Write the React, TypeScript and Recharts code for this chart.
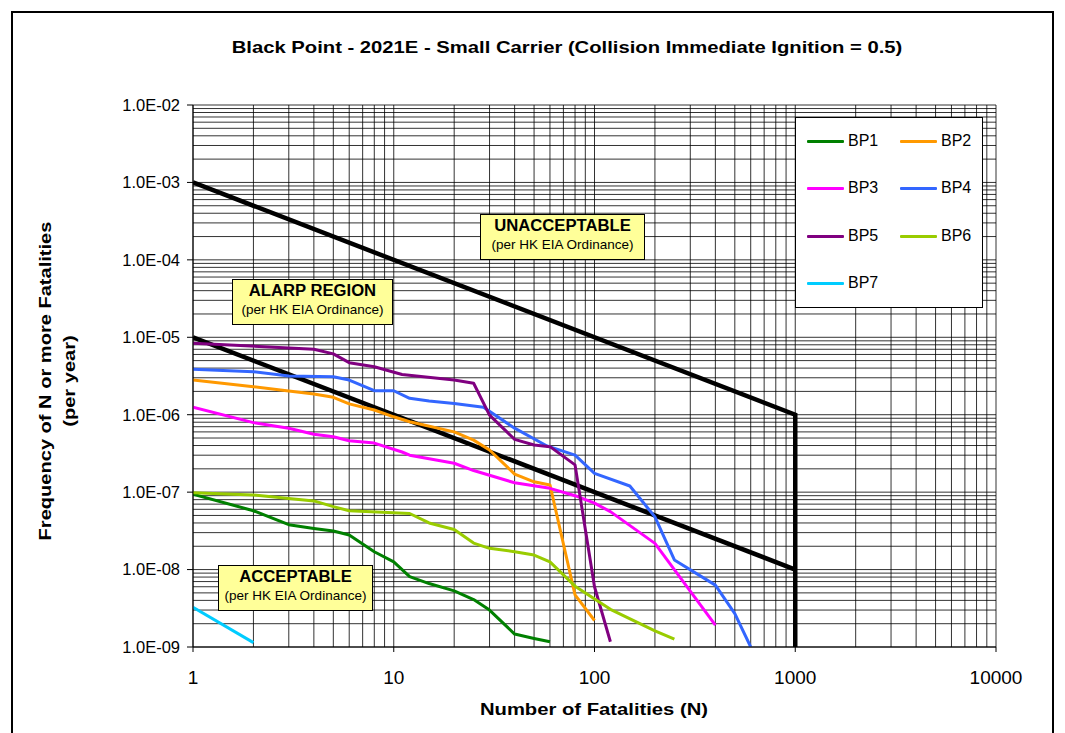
import React from 'react'
import { LineChart, Line, XAxis, YAxis, ReferenceLine } from 'recharts'

// axis ticks
const xTicks = [1, 10, 100, 1000, 10000]
const xTickLabels = ['1', '10', '100', '1000', '10000']
const yTicks = [1e-9, 1e-8, 1e-7, 1e-6, 1e-5, 1e-4, 1e-3, 1e-2]
const yTickLabels = ['1.0E-09', '1.0E-08', '1.0E-07', '1.0E-06', '1.0E-05', '1.0E-04', '1.0E-03', '1.0E-02']

// log grid: every 1..9 step inside each decade
const gridSteps = [1, 2, 3, 4, 5, 6, 7, 8, 9]
const xDecades = [1, 10, 100, 1000]
const yDecades = [1e-9, 1e-8, 1e-7, 1e-6, 1e-5, 1e-4, 1e-3]

// HK EIA risk criterion lines
const upperLimit = [
  { n: 1, f: 1e-3 },
  { n: 1000, f: 1e-6 },
  { n: 1000, f: 1e-9 },
]
const lowerLimit = [
  { n: 1, f: 1e-5 },
  { n: 1000, f: 1e-8 },
]

// F-N curves
const bp1 = [
  { n: 1, f: 9.4e-8 }, { n: 2, f: 5.75e-8 }, { n: 3, f: 3.8e-8 }, { n: 4, f: 3.4e-8 },
  { n: 5, f: 3.15e-8 }, { n: 6, f: 2.8e-8 }, { n: 8, f: 1.7e-8 }, { n: 10, f: 1.26e-8 },
  { n: 12, f: 8.1e-9 }, { n: 15, f: 6.6e-9 }, { n: 20, f: 5.3e-9 }, { n: 25, f: 4.1e-9 },
  { n: 30, f: 3.0e-9 }, { n: 40, f: 1.47e-9 }, { n: 50, f: 1.29e-9 }, { n: 60, f: 1.17e-9 },
]
const bp2 = [
  { n: 1, f: 2.8e-6 }, { n: 2, f: 2.3e-6 }, { n: 3, f: 2.02e-6 }, { n: 4, f: 1.85e-6 },
  { n: 5, f: 1.68e-6 }, { n: 6, f: 1.38e-6 }, { n: 8, f: 1.15e-6 }, { n: 10, f: 9.4e-7 },
  { n: 12, f: 8.1e-7 }, { n: 20, f: 6.0e-7 }, { n: 25, f: 4.7e-7 }, { n: 30, f: 3.5e-7 },
  { n: 40, f: 1.71e-7 }, { n: 50, f: 1.36e-7 }, { n: 60, f: 1.24e-7 }, { n: 80, f: 4.7e-9 },
  { n: 100, f: 2.2e-9 },
]
const bp3 = [
  { n: 1, f: 1.25e-6 }, { n: 2, f: 7.9e-7 }, { n: 3, f: 6.7e-7 }, { n: 4, f: 5.6e-7 },
  { n: 5, f: 5.2e-7 }, { n: 6, f: 4.6e-7 }, { n: 8, f: 4.3e-7 }, { n: 11, f: 3.3e-7 },
  { n: 12, f: 3.0e-7 }, { n: 20, f: 2.36e-7 }, { n: 25, f: 1.9e-7 }, { n: 40, f: 1.32e-7 },
  { n: 60, f: 1.12e-7 }, { n: 80, f: 9.0e-8 }, { n: 100, f: 7.2e-8 }, { n: 120, f: 5.6e-8 },
  { n: 200, f: 2.18e-8 }, { n: 400, f: 1.92e-9 },
]
const bp4 = [
  { n: 1, f: 3.86e-6 }, { n: 2, f: 3.6e-6 }, { n: 3, f: 3.16e-6 }, { n: 5, f: 3.1e-6 },
  { n: 6, f: 2.8e-6 }, { n: 8, f: 2.04e-6 }, { n: 10, f: 2.04e-6 }, { n: 12, f: 1.63e-6 },
  { n: 15, f: 1.5e-6 }, { n: 20, f: 1.4e-6 }, { n: 28, f: 1.25e-6 }, { n: 40, f: 6.7e-7 },
  { n: 58, f: 3.95e-7 }, { n: 80, f: 3.0e-7 }, { n: 100, f: 1.75e-7 }, { n: 150, f: 1.2e-7 },
  { n: 200, f: 4.8e-8 }, { n: 250, f: 1.33e-8 }, { n: 400, f: 6.3e-9 }, { n: 500, f: 2.7e-9 },
  { n: 600, f: 1.0e-9 },
]
const bp5 = [
  { n: 1, f: 8.4e-6 }, { n: 4, f: 7.0e-6 }, { n: 5, f: 6.1e-6 }, { n: 6, f: 4.7e-6 },
  { n: 8, f: 4.17e-6 }, { n: 11, f: 3.3e-6 }, { n: 20, f: 2.8e-6 }, { n: 25, f: 2.55e-6 },
  { n: 30, f: 9.9e-7 }, { n: 40, f: 4.8e-7 }, { n: 50, f: 4.07e-7 }, { n: 60, f: 3.87e-7 },
  { n: 80, f: 2.25e-7 }, { n: 100, f: 6.0e-9 }, { n: 120, f: 1.17e-9 },
]
const bp6 = [
  { n: 1, f: 9.8e-8 }, { n: 2, f: 9.2e-8 }, { n: 3, f: 8.3e-8 }, { n: 4, f: 7.7e-8 },
  { n: 5, f: 6.5e-8 }, { n: 6, f: 5.75e-8 }, { n: 12, f: 5.3e-8 }, { n: 15, f: 4.0e-8 },
  { n: 20, f: 3.3e-8 }, { n: 25, f: 2.2e-8 }, { n: 30, f: 1.88e-8 }, { n: 40, f: 1.7e-8 },
  { n: 50, f: 1.54e-8 }, { n: 60, f: 1.26e-8 }, { n: 80, f: 6.1e-9 }, { n: 120, f: 3.07e-9 },
  { n: 200, f: 1.62e-9 }, { n: 250, f: 1.26e-9 },
]
const bp7 = [
  { n: 1, f: 3.26e-9 }, { n: 2, f: 1.14e-9 },
]

const series = [
  { name: 'BP1', data: bp1, color: '#008000' },
  { name: 'BP2', data: bp2, color: '#FF9900' },
  { name: 'BP3', data: bp3, color: '#FF00FF' },
  { name: 'BP4', data: bp4, color: '#3366FF' },
  { name: 'BP5', data: bp5, color: '#800080' },
  { name: 'BP6', data: bp6, color: '#99CC00' },
  { name: 'BP7', data: bp7, color: '#00CCFF' },
]

const FONT = '"Liberation Sans", Arial, sans-serif'

const xGrid = [...xDecades.flatMap((d) => gridSteps.map((m) => m * d)), 10000]
const yGrid = [...yDecades.flatMap((d) => gridSteps.map((m) => m * d)), 1e-2]

function RegionBox({
  left, top, width, title, sub,
}: { left: number; top: number; width: number; title: string; sub: string }) {
  return (
    <div
      style={{
        position: 'absolute', left, top, width, height: 46, boxSizing: 'border-box',
        border: '1px solid #000', background: '#FFFF99', textAlign: 'center',
        paddingTop: 2, fontFamily: FONT,
      }}
    >
      <div style={{ fontSize: 16, fontWeight: 'bold', lineHeight: '18px', transform: 'scaleX(1.04)' }}>{title}</div>
      <div style={{ fontSize: 13.5, lineHeight: '19px' }}>{sub}</div>
    </div>
  )
}

function LegendBox() {
  return (
    <div
      style={{
        position: 'absolute', left: 795, top: 117, width: 188, height: 191,
        boxSizing: 'border-box', border: '1px solid #000', background: '#fff',
        fontFamily: FONT, fontSize: 16,
      }}
    >
      {series.map((s, i) => {
        const col = i % 2
        const row = Math.floor(i / 2)
        const cy = [23, 70, 118, 165][row]
        const lx = col === 0 ? 11 : 104
        return (
          <div key={s.name}>
            <div style={{ position: 'absolute', left: lx, top: cy - 1.5, width: 37, height: 3, background: s.color, borderRadius: 1 }} />
            <div style={{ position: 'absolute', left: lx + 41, top: cy - 10, lineHeight: '20px' }}>{s.name}</div>
          </div>
        )
      })}
    </div>
  )
}

export default function App() {
  return (
    <div style={{ position: 'relative', width: 1065, height: 733, background: '#fff', overflow: 'hidden', fontFamily: FONT }}>
      <style>{'body{margin:0;overflow:hidden}'}</style>
      <div style={{ position: 'absolute', left: 11, top: 11, width: 1043, height: 740, border: '2px solid #000', boxSizing: 'border-box' }} />
      <div
        style={{
          position: 'absolute', left: 167, top: 38, width: 800, textAlign: 'center',
          fontSize: 17, fontWeight: 'bold', lineHeight: '20px', transform: 'scaleX(1.19)',
        }}
      >
        Black Point - 2021E - Small Carrier (Collision Immediate Ignition = 0.5)
      </div>
      <div style={{ position: 'absolute', left: 0, top: 0 }}>
        <LineChart width={1065} height={733} margin={{ top: 105, right: 69, bottom: 46, left: 113 }}>
          <XAxis
            dataKey="n"
            type="number"
            scale="log"
            domain={[1, 10000]}
            ticks={xTicks}
            interval={0}
            allowDataOverflow
            height={40}
            tickSize={5}
            tickMargin={19}
            tickFormatter={(v: number) => xTickLabels[xTicks.indexOf(v)] ?? String(v)}
            tick={{ fontSize: 19, fill: '#000', fontFamily: FONT }}
            stroke="#000"
          />
          <YAxis
            dataKey="f"
            type="number"
            scale="log"
            domain={[1e-9, 1e-2]}
            ticks={yTicks}
            interval={0}
            allowDataOverflow
            width={80}
            tickSize={6}
            tickMargin={7}
            tickFormatter={(v: number) => {
              const i = yTicks.findIndex((t) => Math.abs(Math.log10(t) - Math.log10(v)) < 1e-6)
              return i >= 0 ? yTickLabels[i] : ''
            }}
            tick={{ fontSize: 16.5, fill: '#000', fontFamily: FONT }}
            stroke="#000"
          />
          {xGrid.map((v) => (
            <ReferenceLine key={'x' + v} x={v} stroke="#000" strokeWidth={1} strokeOpacity={0.8} ifOverflow="extendDomain" />
          ))}
          {yGrid.map((v) => (
            <ReferenceLine key={'y' + v} y={v} stroke="#000" strokeWidth={1} strokeOpacity={0.8} ifOverflow="extendDomain" />
          ))}
          <Line data={upperLimit} dataKey="f" stroke="#000" strokeWidth={4.5} dot={false} isAnimationActive={false} legendType="none" />
          <Line data={lowerLimit} dataKey="f" stroke="#000" strokeWidth={4.5} dot={false} isAnimationActive={false} legendType="none" />
          {series.map((s) => (
            <Line
              key={s.name}
              name={s.name}
              data={s.data}
              dataKey="f"
              stroke={s.color}
              strokeWidth={3}
              strokeLinejoin="round"
              dot={false}
              isAnimationActive={false}
            />
          ))}
        </LineChart>
      </div>
      <RegionBox left={480} top={214} width={165} title="UNACCEPTABLE" sub="(per HK EIA Ordinance)" />
      <RegionBox left={232} top={279} width={161} title="ALARP REGION" sub="(per HK EIA Ordinance)" />
      <RegionBox left={218} top={565} width={155} title="ACCEPTABLE" sub="(per HK EIA Ordinance)" />
      <LegendBox />
      <div
        style={{
          position: 'absolute', left: 394, top: 700, width: 400, textAlign: 'center',
          fontSize: 17, fontWeight: 'bold', lineHeight: '20px', transform: 'scaleX(1.19)',
        }}
      >
        Number of Fatalities (N)
      </div>
      <div
        style={{
          position: 'absolute', left: 46, top: 381, transform: 'translate(-50%, -50%) rotate(-90deg) scaleX(1.18)',
          fontSize: 17, fontWeight: 'bold', whiteSpace: 'nowrap', lineHeight: '20px',
        }}
      >
        Frequency of N or more Fatalities
      </div>
      <div
        style={{
          position: 'absolute', left: 70, top: 381, transform: 'translate(-50%, -50%) rotate(-90deg) scaleX(1.18)',
          fontSize: 17, fontWeight: 'bold', whiteSpace: 'nowrap', lineHeight: '20px',
        }}
      >
        (per year)
      </div>
    </div>
  )
}
